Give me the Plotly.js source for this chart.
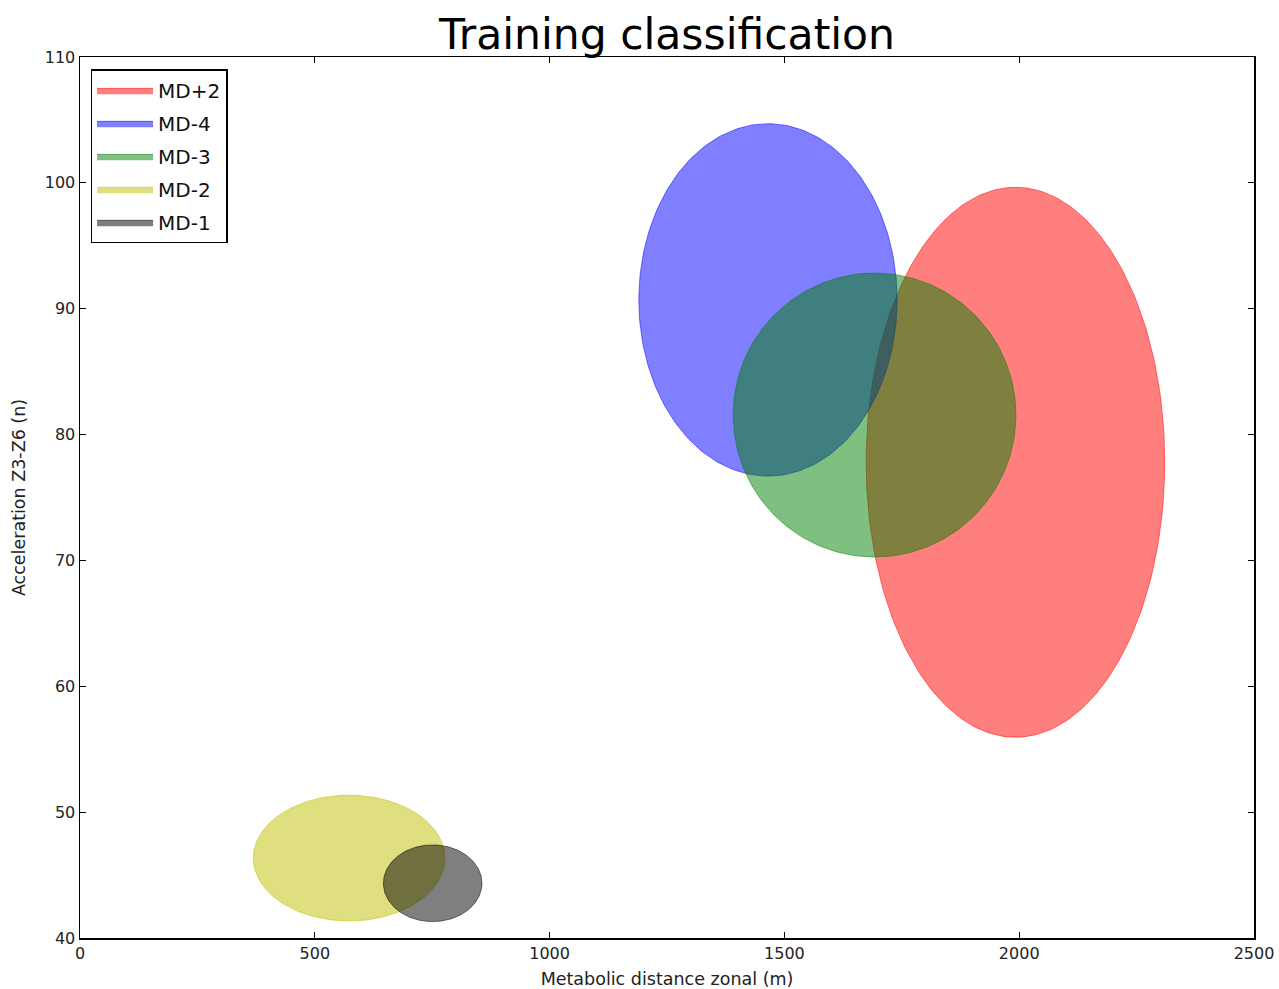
<!DOCTYPE html>
<html>
<head>
<meta charset="utf-8">
<script src="https://cdn.plot.ly/plotly-3.0.1.min.js"></script>
<style>html,body{margin:0;padding:0;background:#fff;}#chart{width:1279px;height:989px;}</style>
</head>
<body>
<div id="chart"></div>
<script>
// Ellipse summary per training day (centre and half-widths in data units)
var categories = ["MD+2", "MD-4", "MD-3", "MD-2", "MD-1"];
var centerX = [1992, 1465, 1692, 573, 751];
var centerY = [77.8, 90.7, 81.55, 46.35, 44.35];
var radiusX = [318, 275, 301, 204, 105];
var radiusY = [21.85, 14.0, 11.28, 5.0, 3.05];
var colors = ["rgba(255,0,0,0.5)", "rgba(0,0,255,0.5)", "rgba(0,128,0,0.5)", "rgba(191,191,0,0.5)", "rgba(0,0,0,0.5)"];
var xTicks = [0, 500, 1000, 1500, 2000, 2500];
var yTicks = [40, 50, 60, 70, 80, 90, 100, 110];

var N = 240;
var traces = categories.map(function (name, i) {
  var xs = [], ys = [];
  for (var k = 0; k <= N; k++) {
    var t = 2 * Math.PI * k / N;
    xs.push(centerX[i] + radiusX[i] * Math.cos(t));
    ys.push(centerY[i] + radiusY[i] * Math.sin(t));
  }
  return {
    type: "scatter", mode: "lines", name: name, x: xs, y: ys,
    legendgroup: name,
    fill: "toself", fillcolor: colors[i],
    line: {color: colors[i], width: 1}, hoverinfo: "name"
  };
});

var font = "DejaVu Sans, sans-serif";
var layout = {
  width: 1279, height: 989,
  margin: {l: 80, r: 25, t: 57, b: 51},
  paper_bgcolor: "#fff", plot_bgcolor: "#fff",
  font: {family: font, color: "#222", size: 16},
  title: {text: "Training classification", font: {size: 42.5, color: "#000", family: font}, xref: "paper", x: 0.5, xanchor: "center", y: 0.966, yanchor: "middle"},
  xaxis: {
    range: [0, 2500], tickvals: xTicks, ticktext: xTicks.map(String),
    showgrid: false, zeroline: false, showline: true, mirror: "allticks",
    linecolor: "#000", linewidth: 1.5, ticks: "inside", ticklen: 6, tickcolor: "#000",
    tickfont: {size: 16, family: font, color: "#222"},
    title: {text: "Metabolic distance zonal (m)", font: {size: 17.5, family: font, color: "#222"}, standoff: 12}
  },
  yaxis: {
    range: [40, 110], tickvals: yTicks, ticktext: yTicks.map(String),
    showgrid: false, zeroline: false, showline: true, mirror: "allticks",
    linecolor: "#000", linewidth: 1.5, ticks: "inside", ticklen: 6, tickcolor: "#000",
    tickfont: {size: 16, family: font, color: "#222"},
    title: {text: "Acceleration Z3-Z6 (n)", font: {size: 17.5, family: font, color: "#222"}, standoff: 14}
  },
  showlegend: true,
  legend: {
    x: 0.009, y: 0.986, xanchor: "left", yanchor: "top",
    bgcolor: "#fff", bordercolor: "#000", borderwidth: 1.5,
    font: {size: 20, family: font, color: "#111"},
    tracegroupgap: 4, itemwidth: 56
  }
};

Plotly.newPlot("chart", traces, layout, {displayModeBar: false, staticPlot: true});
</script>
</body>
</html>
